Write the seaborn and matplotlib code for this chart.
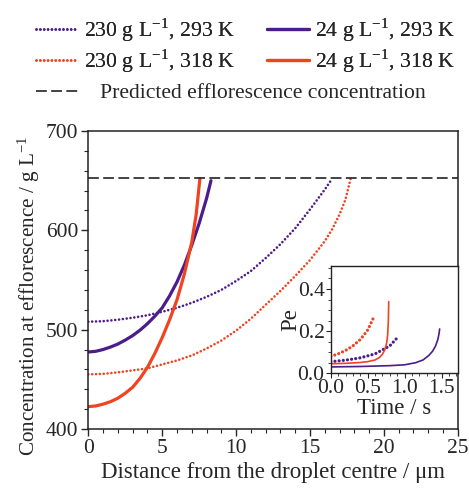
import matplotlib
matplotlib.use("Agg")
import matplotlib.pyplot as plt
import numpy as np
import pandas as pd
import seaborn as sns
from matplotlib.lines import Line2D
from matplotlib.ticker import MultipleLocator, FormatStrFormatter

sns.set_style("ticks")
plt.rcParams['font.family'] = ['Liberation Serif', 'DejaVu Serif']
plt.rcParams['mathtext.fontset'] = 'stix'

PURPLE = '#4a1c8c'
RED = '#f0431f'

# main panel: concentration at efflorescence vs distance (um, g/L)
x_230_293 = [0, 1, 2, 3, 4, 5, 6, 7, 8, 9, 10, 11, 12, 13, 14, 15, 16, 16.5]
y_230_293 = [508, 508.5, 510, 512, 514.5, 518, 522, 527, 533, 540, 549, 559, 572, 586, 602, 621, 641, 652]
x_230_318 = [0, 1, 2, 3, 4, 5, 6, 7, 8, 9, 10, 11, 12, 13, 14, 15, 16, 16.5, 17, 17.4, 17.75]
y_230_318 = [455, 455.5, 457, 459, 461, 465, 469, 474, 481, 489, 499, 511, 525, 539, 554, 570, 589, 601, 616, 631, 652]
x_24_293 = [0, 0.5, 1, 1.5, 2, 2.5, 3, 3.5, 4, 4.5, 5, 5.5, 6, 6.5, 7, 7.5, 8, 8.3]
y_24_293 = [477.5, 478.2, 480, 482.5, 485.5, 489.5, 494, 499.5, 506, 513.5, 522, 534, 548, 565, 585, 607, 632, 650]
x_24_318 = [0, 0.5, 1, 1.5, 2, 2.5, 3, 3.5, 4, 4.5, 5, 5.5, 6, 6.5, 7, 7.3, 7.55]
y_24_318 = [422.5, 423.2, 425, 427.5, 431, 436, 442, 451, 462, 476, 492, 510, 530, 556, 588, 616, 652]
efflor_conc = 653

# inset: Peclet number vs time (s)
t_230_293 = [0, 0.2, 0.4, 0.6, 0.8, 0.92]
pe_230_293 = [0.055, 0.062, 0.073, 0.092, 0.13, 0.176]
t_230_318 = [0, 0.1, 0.2, 0.3, 0.4, 0.5, 0.59]
pe_230_318 = [0.08, 0.092, 0.108, 0.13, 0.16, 0.205, 0.272]
t_24_293 = [0, 0.4, 0.8, 1.0, 1.15, 1.25, 1.33, 1.38, 1.42, 1.45, 1.465, 1.475]
pe_24_293 = [0.03, 0.032, 0.036, 0.04, 0.05, 0.063, 0.085, 0.105, 0.13, 0.16, 0.185, 0.21]
t_24_318 = [0, 0.2, 0.4, 0.5, 0.6, 0.66, 0.7, 0.73, 0.755, 0.77, 0.78, 0.785]
pe_24_318 = [0.045, 0.047, 0.051, 0.055, 0.063, 0.075, 0.09, 0.11, 0.14, 0.18, 0.25, 0.34]

labels = ['230 g L$^{\\mathregular{-1}}$, 293 K', '230 g L$^{\\mathregular{-1}}$, 318 K',
          '24 g L$^{\\mathregular{-1}}$, 293 K', '24 g L$^{\\mathregular{-1}}$, 318 K']

DOT = (0, (0.01, 1.45))
DOT_IN = (0, (0.01, 1.3))
DASH = (6.5, 2.6)
INK = '#222222'
FS_LAB = 16.5
FS_TICK = 15.5
FS_LEG = 15.6

fig = plt.figure(figsize=(4.69, 4.90), dpi=100)
ax = fig.add_axes([0.1883, 0.1245, 0.7877, 0.6082])

sns.lineplot(x=x_230_293, y=y_230_293, ax=ax, color=PURPLE, lw=1.9, linestyle=DOT,
             dash_capstyle='round', sort=False)
sns.lineplot(x=x_230_318, y=y_230_318, ax=ax, color=RED, lw=1.9, linestyle=DOT,
             dash_capstyle='round', sort=False)
sns.lineplot(x=x_24_293, y=y_24_293, ax=ax, color=PURPLE, lw=2.3, sort=False)
sns.lineplot(x=x_24_318, y=y_24_318, ax=ax, color=RED, lw=2.3, sort=False)
ax.axhline(efflor_conc, color=INK, lw=1.2, dashes=DASH)

ax.set_xlim(0, 25)
ax.set_ylim(400, 700)
ax.xaxis.set_major_locator(MultipleLocator(5))
ax.xaxis.set_minor_locator(MultipleLocator(1))
ax.yaxis.set_major_locator(MultipleLocator(100))
ax.yaxis.set_minor_locator(MultipleLocator(20))
ax.tick_params(which='major', direction='out', length=5, width=1, labelsize=FS_TICK, pad=2)
ax.tick_params(which='minor', direction='out', length=3, width=0.8)
for s in ax.spines.values():
    s.set_linewidth(1.1)
    s.set_color(INK)
ax.set_xlabel('Distance from the droplet centre / μm', fontsize=FS_LAB, labelpad=3)
ax.set_ylabel('Concentration at efflorescence / g L$^{\\mathregular{-1}}$', fontsize=15.2)
ax.yaxis.set_label_coords(-0.125, 0.447)

# inset
ins = fig.add_axes([0.7053, 0.2383, 0.2707, 0.2192])
ins.set_facecolor('white')
sns.lineplot(x=t_230_293, y=pe_230_293, ax=ins, color=PURPLE, lw=2.3, linestyle=DOT_IN,
             dash_capstyle='round', sort=False)
sns.lineplot(x=t_230_318, y=pe_230_318, ax=ins, color=RED, lw=2.3, linestyle=DOT_IN,
             dash_capstyle='round', sort=False)
sns.lineplot(x=t_24_293, y=pe_24_293, ax=ins, color=PURPLE, lw=1.2, sort=False)
sns.lineplot(x=t_24_318, y=pe_24_318, ax=ins, color=RED, lw=1.2, sort=False)
ins.set_xlim(0, 1.72)
ins.set_ylim(0, 0.51)
ins.xaxis.set_major_locator(MultipleLocator(0.5))
ins.yaxis.set_major_locator(MultipleLocator(0.2))
ins.yaxis.set_minor_locator(MultipleLocator(0.05))
ins.xaxis.set_minor_locator(MultipleLocator(0.1))
ins.xaxis.set_major_formatter(FormatStrFormatter('%.1f'))
ins.yaxis.set_major_formatter(FormatStrFormatter('%.1f'))
ins.tick_params(which='major', direction='out', length=3.5, width=0.8, labelsize=FS_TICK, pad=1)
ins.tick_params(which='minor', direction='out', length=2, width=0.6)
for s in ins.spines.values():
    s.set_linewidth(1.0)
    s.set_color(INK)
ins.set_xlabel('Time / s', fontsize=FS_LAB, labelpad=0)
ins.set_ylabel('Pe', fontsize=FS_LAB, labelpad=-3)

# legends above the plot
handles = [
    Line2D([], [], color=PURPLE, lw=1.9, linestyle=DOT, dash_capstyle='round'),
    Line2D([], [], color=RED, lw=1.9, linestyle=DOT, dash_capstyle='round'),
    Line2D([], [], color=PURPLE, lw=2.3),
    Line2D([], [], color=RED, lw=2.3),
]
leg1 = fig.legend(handles, labels, ncol=2, loc='upper left', bbox_to_anchor=(0.058, 0.984),
                  frameon=False, fontsize=FS_LEG, handlelength=1.95, handletextpad=0.25,
                  columnspacing=1.5, labelspacing=0.17, borderaxespad=0)
fig.add_artist(leg1)
fig.legend([Line2D([], [], color=INK, lw=1.2, dashes=DASH)],
           ['Predicted efflorescence concentration'], loc='upper left',
           bbox_to_anchor=(0.058, 0.848), frameon=False, fontsize=FS_LEG,
           handlelength=1.95, handletextpad=1.0, borderaxespad=0)

fig.savefig('out.png', dpi=100)
